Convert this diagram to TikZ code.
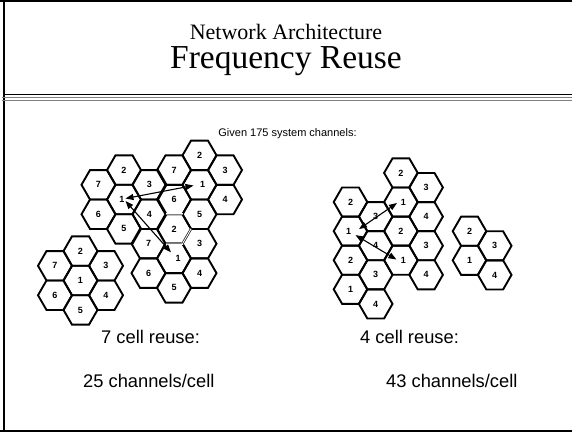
\documentclass[tikz,border=0pt]{standalone}
\usepackage{fontspec}
\setmainfont{Liberation Serif}
\setsansfont{Liberation Sans}
\usetikzlibrary{arrows.meta}
\newcommand\hexcell[6][]{%
  \draw[hexline] (#3,#4) +(0:#6pt) -- +(60:#6pt) -- +(120:#6pt) -- +(180:#6pt) -- +(240:#6pt) -- +(300:#6pt) -- cycle;
  \node[cellnum,#1] (#2) at (#3,#4) {#5};}
\newcommand\sevencl[4][]{%
  \hexcell[#1]{#2-1}{#3}{#4}{1}{17}
  \hexcell{#2-2}{#3}{#4-29.44}{2}{17}
  \hexcell{#2-3}{#3+25.5}{#4-14.72}{3}{17}
  \hexcell{#2-4}{#3+25.5}{#4+14.72}{4}{17}
  \hexcell{#2-5}{#3}{#4+29.44}{5}{17}
  \hexcell{#2-6}{#3-25.5}{#4+14.72}{6}{17}
  \hexcell{#2-7}{#3-25.5}{#4-14.72}{7}{17}}
\begin{document}
\begin{tikzpicture}[x=1pt,y=-1pt,
  hexline/.style={line width=1.9pt, line join=miter, black},
  cellnum/.style={font=\sffamily\bfseries\fontsize{9}{9}\selectfont, inner sep=0pt},
  reuse/.style={line width=1.1pt, {Triangle[length=8pt,width=6pt]}-{Triangle[length=8pt,width=6pt]}},
  body/.style={font=\sffamily\fontsize{18.3}{20}\selectfont, inner sep=0pt}]
\useasboundingbox (0,0) rectangle (572,432);
% frame
\draw[line width=2.4pt] (4.2,0) -- (4.2,432);
\draw[line width=2pt] (0,1.2) -- (572,1.2);
\draw[line width=2pt] (0,430.8) -- (572,430.8);
\draw[line width=1pt] (4,94) -- (572,94);
\draw[gray, line width=1.3pt] (1.5,97.5) -- (572,97.5);
\draw[gray, line width=1.3pt] (1.5,100.5) -- (572,100.5);
% titles
\node[anchor=base, inner sep=0pt, text depth=0pt, font=\fontsize{22}{24}\selectfont] (t1) at (286,39.5) {Network Architecture};
\node[anchor=base, inner sep=0pt, text height=23pt, font=\fontsize{33.5}{36}\selectfont] (t2) at (286,68.5) {Frequency Reuse};
\node[anchor=base, inner sep=0pt, font=\sffamily\fontsize{11}{13}\selectfont] (given) at (287.5,136) {Given 175 system channels:};
% 7 cell reuse
\sevencl[xshift=-2pt]{A}{124}{199.5}
\sevencl[xshift=3pt]{B}{199.5}{184.8}
\sevencl[xshift=4pt]{C}{174}{258.4}
\sevencl{D}{80.5}{280.5}
\draw[white, line width=2.2pt] ([shift={(-8.5,-14.72)}]C-2.center) -- ++(17,0);
\draw[gray, line width=1.2pt] ([shift={(-8.5,-14.72)}]C-2.center) -- ++(17,0);
\draw[white, line width=2.2pt] ([shift={(-8.5,14.72)}]C-2.center) -- ++(17,0);
\draw[gray, line width=1.2pt] ([shift={(-8.5,14.72)}]C-2.center) -- ++(17,0);
\draw[white, line width=2.6pt] ([shift={(17,0)}]C-2.center) -- ++(-8.5,14.72);
\draw[line width=0.6pt, double=white, double distance=0.9pt] ([shift={(17,0)}]C-2.center) -- ++(-8.5,14.72);
\draw[reuse] ([shift={(3.5,-1)}]A-1.center) -- ([shift={(-9,0.7)}]B-1.center);
\draw[reuse] ([shift={(3.5,1.5)}]A-1.center) -- ([shift={(-7,-6)}]C-1.center);
% 4 cell reuse
\hexcell{F02a}{350.5}{202.0}{2}{16.8}
\hexcell[xshift=-2pt]{F01a}{350.5}{231.1}{1}{16.8}
\hexcell{F02b}{350.5}{260.2}{2}{16.8}
\hexcell{F01b}{350.5}{289.3}{1}{16.8}
\hexcell{F13a}{375.7}{216.6}{3}{16.8}
\hexcell{F14a}{375.7}{245.7}{4}{16.8}
\hexcell{F13b}{375.7}{274.8}{3}{16.8}
\hexcell{F14b}{375.7}{303.9}{4}{16.8}
\hexcell{F22a}{400.9}{172.9}{2}{16.8}
\hexcell[xshift=2.5pt]{F21a}{400.9}{202.0}{1}{16.8}
\hexcell{F22b}{400.9}{231.1}{2}{16.8}
\hexcell[xshift=2.5pt]{F21b}{400.9}{260.2}{1}{16.8}
\hexcell{F33a}{426.1}{187.5}{3}{16.8}
\hexcell{F34a}{426.1}{216.6}{4}{16.8}
\hexcell{F33b}{426.1}{245.7}{3}{16.8}
\hexcell{F34b}{426.1}{274.8}{4}{16.8}
\hexcell{E2}{469.5}{231.2}{2}{16.8}
\hexcell{E1}{469.5}{260.3}{1}{16.8}
\hexcell{E3}{494.7}{245.8}{3}{16.8}
\hexcell{E4}{494.7}{274.9}{4}{16.8}
\draw[reuse] ([shift={(10.5,-2)}]F01a.center) -- ([shift={(-6.4,1)}]F21a.center);
\draw[reuse] ([shift={(7,4)}]F01a.center) -- ([shift={(-7,-0.7)}]F21b.center);
% captions
\node[body, anchor=base west] (r7) at (101,343) {7 cell reuse:};
\node[body, anchor=base west] (c7) at (83,387) {25 channels/cell};
\node[body, anchor=base west] (r4) at (360,343) {4 cell reuse:};
\node[body, anchor=base west] (c4) at (386,387) {43 channels/cell};
\end{tikzpicture}
\end{document}
